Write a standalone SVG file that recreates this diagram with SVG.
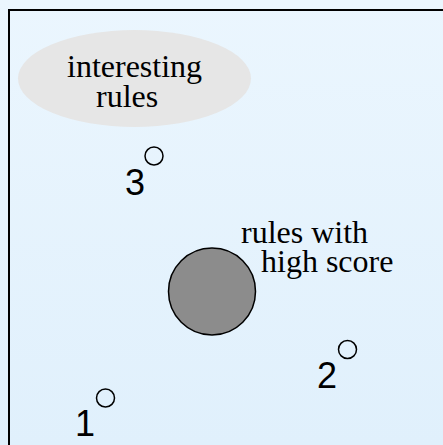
<svg xmlns="http://www.w3.org/2000/svg" width="443" height="445" viewBox="0 0 443 445">
<defs>
<linearGradient id="bg" x1="0" y1="0" x2="0" y2="1">
<stop offset="0" stop-color="#ebf6fe"/>
<stop offset="1" stop-color="#e0f0fc"/>
</linearGradient>
<style>
.serif{font-family:"Liberation Serif","Times New Roman",serif;font-size:32px;fill:#000}
.num{font-family:"Liberation Sans",Arial,sans-serif;font-size:36px;fill:#000}
.pt{fill:none;stroke:#000;stroke-width:1.5}
</style>
</defs>
<rect x="0" y="0" width="443" height="445" fill="url(#bg)"/>
<rect x="9" y="10" width="500" height="500" fill="none" stroke="#000" stroke-width="2"/>
<g id="interesting">
<ellipse cx="134.5" cy="78.5" rx="116.5" ry="48.5" fill="#e6e6e6"/>
<text class="serif" x="67" y="77">interesting</text>
<text class="serif" x="96" y="107">rules</text>
</g>
<g id="high">
<circle cx="212" cy="291.5" r="43.5" fill="#8c8c8c" stroke="#000" stroke-width="1.5"/>
<text class="serif" x="241" y="243">rules with</text>
<text class="serif" x="261" y="272">high score</text>
</g>
<g id="p3">
<circle class="pt" cx="154" cy="156" r="9"/>
<text class="num" x="125" y="195">3</text>
</g>
<g id="p2">
<circle class="pt" cx="347.5" cy="349.5" r="9"/>
<text class="num" x="317" y="388">2</text>
</g>
<g id="p1">
<circle class="pt" cx="105.5" cy="398" r="9"/>
<text class="num" x="75" y="436">1</text>
</g>
<g id="connectors"/>
</svg>
